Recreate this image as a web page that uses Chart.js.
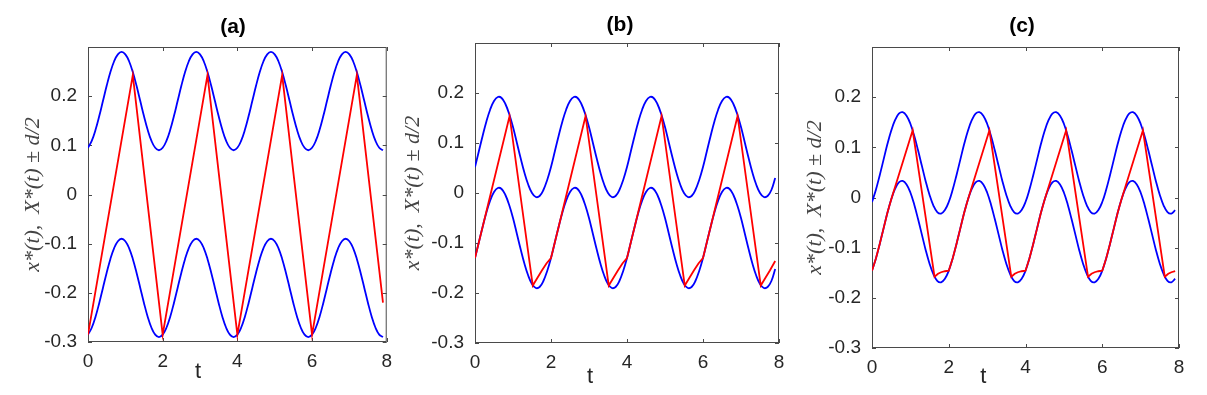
<!DOCTYPE html>
<html>
<head>
<meta charset="utf-8">
<script src="https://cdn.jsdelivr.net/npm/chart.js@4.4.1/dist/chart.umd.min.js"></script>
<style>
  html, body { margin: 0; padding: 0; background: #fff; }
  #wrap { position: relative; width: 1207px; height: 395px; }
  canvas { position: absolute; top: 0; }
</style>
</head>
<body>
<div id="wrap">
  <canvas id="pa" width="400" height="395" style="left:0"></canvas>
  <canvas id="pb" width="400" height="395" style="left:400px"></canvas>
  <canvas id="pc" width="407" height="395" style="left:800px"></canvas>
</div>
<script>
// ---------- data ----------

const tSamples = [
  0, 0.1, 0.2, 0.3, 0.4, 0.5, 0.6, 0.7, 0.8, 0.9, 1, 1.1, 1.2, 1.3, 1.4, 1.5, 1.6, 1.7, 1.8, 1.9,
  2, 2.1, 2.2, 2.3, 2.4, 2.5, 2.6, 2.7, 2.8, 2.9, 3, 3.1, 3.2, 3.3, 3.4, 3.5, 3.6, 3.7, 3.8, 3.9,
  4, 4.1, 4.2, 4.3, 4.4, 4.5, 4.6, 4.7, 4.8, 4.9, 5, 5.1, 5.2, 5.3, 5.4, 5.5, 5.6, 5.7, 5.8, 5.9,
  6, 6.1, 6.2, 6.3, 6.4, 6.5, 6.6, 6.7, 6.8, 6.9, 7, 7.1, 7.2, 7.3, 7.4, 7.5, 7.6, 7.7, 7.8, 7.9,
];

// (a) X*(t) + d/2, X*(t) - d/2
const upperA = [
  0.095, 0.109, 0.131, 0.159, 0.19, 0.221, 0.249, 0.271, 0.285, 0.29, 0.285, 0.271, 0.249, 0.221, 0.19, 0.159, 0.131, 0.109, 0.095, 0.09,
  0.095, 0.109, 0.131, 0.159, 0.19, 0.221, 0.249, 0.271, 0.285, 0.29, 0.285, 0.271, 0.249, 0.221, 0.19, 0.159, 0.131, 0.109, 0.095, 0.09,
  0.095, 0.109, 0.131, 0.159, 0.19, 0.221, 0.249, 0.271, 0.285, 0.29, 0.285, 0.271, 0.249, 0.221, 0.19, 0.159, 0.131, 0.109, 0.095, 0.09,
  0.095, 0.109, 0.131, 0.159, 0.19, 0.221, 0.249, 0.271, 0.285, 0.29, 0.285, 0.271, 0.249, 0.221, 0.19, 0.159, 0.131, 0.109, 0.095, 0.09,
];
const lowerA = [
  -0.285, -0.271, -0.249, -0.221, -0.19, -0.159, -0.131, -0.109, -0.095, -0.09, -0.095, -0.109, -0.131, -0.159, -0.19, -0.221, -0.249, -0.271, -0.285, -0.29,
  -0.285, -0.271, -0.249, -0.221, -0.19, -0.159, -0.131, -0.109, -0.095, -0.09, -0.095, -0.109, -0.131, -0.159, -0.19, -0.221, -0.249, -0.271, -0.285, -0.29,
  -0.285, -0.271, -0.249, -0.221, -0.19, -0.159, -0.131, -0.109, -0.095, -0.09, -0.095, -0.109, -0.131, -0.159, -0.19, -0.221, -0.249, -0.271, -0.285, -0.29,
  -0.285, -0.271, -0.249, -0.221, -0.19, -0.159, -0.131, -0.109, -0.095, -0.09, -0.095, -0.109, -0.131, -0.159, -0.19, -0.221, -0.249, -0.271, -0.285, -0.29,
];
const redAT = [0, 1.2, 2, 3.2, 4, 5.2, 6, 7.2, 7.9];
const redAY = [-0.285, 0.243, -0.285, 0.243, -0.285, 0.243, -0.285, 0.243, -0.22];

// (b)
const upperB = [
  0.052, 0.083, 0.114, 0.143, 0.167, 0.184, 0.192, 0.19, 0.178, 0.158, 0.132, 0.101, 0.07, 0.041, 0.017, 0, -0.008, -0.006, 0.006, 0.026,
  0.052, 0.083, 0.114, 0.143, 0.167, 0.184, 0.192, 0.19, 0.178, 0.158, 0.132, 0.101, 0.07, 0.041, 0.017, 0, -0.008, -0.006, 0.006, 0.026,
  0.052, 0.083, 0.114, 0.143, 0.167, 0.184, 0.192, 0.19, 0.178, 0.158, 0.132, 0.101, 0.07, 0.041, 0.017, 0, -0.008, -0.006, 0.006, 0.026,
  0.052, 0.083, 0.114, 0.143, 0.167, 0.184, 0.192, 0.19, 0.178, 0.158, 0.132, 0.101, 0.07, 0.041, 0.017, 0, -0.008, -0.006, 0.006, 0.03,
];
const lowerB = [
  -0.13, -0.099, -0.068, -0.039, -0.015, 0.002, 0.01, 0.008, -0.004, -0.024, -0.05, -0.081, -0.112, -0.141, -0.165, -0.182, -0.19, -0.188, -0.176, -0.156,
  -0.13, -0.099, -0.068, -0.039, -0.015, 0.002, 0.01, 0.008, -0.004, -0.024, -0.05, -0.081, -0.112, -0.141, -0.165, -0.182, -0.19, -0.188, -0.176, -0.156,
  -0.13, -0.099, -0.068, -0.039, -0.015, 0.002, 0.01, 0.008, -0.004, -0.024, -0.05, -0.081, -0.112, -0.141, -0.165, -0.182, -0.19, -0.188, -0.176, -0.156,
  -0.13, -0.099, -0.068, -0.039, -0.015, 0.002, 0.01, 0.008, -0.004, -0.024, -0.05, -0.081, -0.112, -0.141, -0.165, -0.182, -0.19, -0.188, -0.176, -0.152,
];
const redBT = [
  0, 0.1, 0.2, 0.91, 1.52, 1.64, 1.76, 1.88,
  2, 2.1, 2.2, 2.91, 3.52, 3.64, 3.76, 3.88,
  4, 4.1, 4.2, 4.91, 5.52, 5.64, 5.76, 5.88,
  6, 6.1, 6.2, 6.91, 7.52, 7.64, 7.76, 7.9,
];
const redBY = [
  -0.13, -0.099, -0.068, 0.154, -0.185, -0.17, -0.155, -0.141,
  -0.13, -0.099, -0.068, 0.154, -0.185, -0.17, -0.155, -0.141,
  -0.13, -0.099, -0.068, 0.154, -0.185, -0.17, -0.155, -0.141,
  -0.13, -0.099, -0.068, 0.154, -0.185, -0.17, -0.155, -0.136,
];

// (c)
const upperC = [
  -0.009, 0.015, 0.044, 0.075, 0.106, 0.133, 0.154, 0.167, 0.17, 0.163, 0.147, 0.123, 0.094, 0.063, 0.032, 0.005, -0.016, -0.029, -0.032, -0.025,
  -0.009, 0.015, 0.044, 0.075, 0.106, 0.133, 0.154, 0.167, 0.17, 0.163, 0.147, 0.123, 0.094, 0.063, 0.032, 0.005, -0.016, -0.029, -0.032, -0.025,
  -0.009, 0.015, 0.044, 0.075, 0.106, 0.133, 0.154, 0.167, 0.17, 0.163, 0.147, 0.123, 0.094, 0.063, 0.032, 0.005, -0.016, -0.029, -0.032, -0.025,
  -0.009, 0.015, 0.044, 0.075, 0.106, 0.133, 0.154, 0.167, 0.17, 0.163, 0.147, 0.123, 0.094, 0.063, 0.032, 0.005, -0.016, -0.029, -0.032, -0.025,
];
const lowerC = [
  -0.146, -0.122, -0.093, -0.062, -0.031, -0.004, 0.017, 0.03, 0.033, 0.026, 0.01, -0.014, -0.043, -0.074, -0.105, -0.132, -0.153, -0.166, -0.169, -0.162,
  -0.146, -0.122, -0.093, -0.062, -0.031, -0.004, 0.017, 0.03, 0.033, 0.026, 0.01, -0.014, -0.043, -0.074, -0.105, -0.132, -0.153, -0.166, -0.169, -0.162,
  -0.146, -0.122, -0.093, -0.062, -0.031, -0.004, 0.017, 0.03, 0.033, 0.026, 0.01, -0.014, -0.043, -0.074, -0.105, -0.132, -0.153, -0.166, -0.169, -0.162,
  -0.146, -0.122, -0.093, -0.062, -0.031, -0.004, 0.017, 0.03, 0.033, 0.026, 0.01, -0.014, -0.043, -0.074, -0.105, -0.132, -0.153, -0.166, -0.169, -0.162,
];
const redCT = [
  0, 0.1, 0.2, 0.3, 0.4, 0.5, 1.06, 1.63, 1.72, 1.8, 1.9,
  2, 2.1, 2.2, 2.3, 2.4, 2.5, 3.06, 3.63, 3.72, 3.8, 3.9,
  4, 4.1, 4.2, 4.3, 4.4, 4.5, 5.06, 5.63, 5.72, 5.8, 5.9,
  6, 6.1, 6.2, 6.3, 6.4, 6.5, 7.06, 7.63, 7.72, 7.8, 7.9,
];
const redCY = [
  -0.146, -0.122, -0.093, -0.062, -0.031, -0.004, 0.134, -0.158, -0.152, -0.149, -0.147,
  -0.146, -0.122, -0.093, -0.062, -0.031, -0.004, 0.134, -0.158, -0.152, -0.149, -0.147,
  -0.146, -0.122, -0.093, -0.062, -0.031, -0.004, 0.134, -0.158, -0.152, -0.149, -0.147,
  -0.146, -0.122, -0.093, -0.062, -0.031, -0.004, 0.134, -0.158, -0.152, -0.149, -0.147,
];

const xTickValues = [0, 2, 4, 6, 8];
const xTickLabels = ["0", "2", "4", "6", "8"];
const yTickValues = [-0.3, -0.2, -0.1, 0, 0.1, 0.2];
const yTickLabels = ["-0.3", "-0.2", "-0.1", "0", "0.1", "0.2"];

const Y_TITLE = "x*(t),  X*(t) \u00b1 d/2";
const X_TITLE = "t";

// ---------- styling ----------

const BLUE = "#0000ff";
const RED = "#ff0000";
const AXIS_COLOR = "#4a4a4a";
const TEXT_COLOR = "#262626";
const LINE_W = 1.8;
const TICK_LEN = 4;
const SANS = "'Liberation Sans', Arial, sans-serif";

const panelDecor = {
  id: "panelDecor",
  beforeDatasetsDraw(chart) {
    const { ctx, chartArea: a, scales: { x, y } } = chart;
    ctx.save();
    ctx.strokeStyle = AXIS_COLOR;
    ctx.lineWidth = 1;
    ctx.strokeRect(a.left + 0.5, a.top + 0.5, a.right - a.left - 1, a.bottom - a.top - 1);
    ctx.beginPath();
    for (const v of xTickValues) {
      const px = Math.round(x.getPixelForValue(v)) + 0.5;
      ctx.moveTo(px, a.bottom); ctx.lineTo(px, a.bottom - TICK_LEN);
      ctx.moveTo(px, a.top); ctx.lineTo(px, a.top + TICK_LEN);
    }
    for (const v of yTickValues) {
      const py = Math.round(y.getPixelForValue(v)) + 0.5;
      ctx.moveTo(a.left, py); ctx.lineTo(a.left + TICK_LEN, py);
      ctx.moveTo(a.right, py); ctx.lineTo(a.right - TICK_LEN, py);
    }
    ctx.stroke();
    ctx.restore();
  },
  afterDraw(chart, args, o) {
    const { ctx, scales: { x } } = chart;
    ctx.save();
    ctx.fillStyle = "#000";
    ctx.textAlign = "center";
    ctx.textBaseline = "middle";
    ctx.font = `bold 21px ${SANS}`;
    ctx.fillText(o.title, o.titleX, o.titleY);
    ctx.fillStyle = TEXT_COLOR;
    ctx.textBaseline = "alphabetic";
    ctx.font = `22px ${SANS}`;
    ctx.fillText(X_TITLE, x.getPixelForValue(o.tAt), o.tBase);
    ctx.restore();
  },
};

function lineSet(xs, ys, color, tension) {
  return {
    data: xs.map((t, i) => ({ x: t, y: ys[i] })),
    borderColor: color,
    borderWidth: LINE_W,
    pointRadius: 0,
    tension,
    fill: false,
  };
}

const panels = [
  { id: "pa", title: "(a)", titleX: 233, titleY: 27, tAt: 2.95, tBase: 378,
    pad: { left: 18, right: 11, top: 47, bottom: 13 }, yWidth: 70, yTitlePad: 1.8,
    upper: upperA, lower: lowerA, redT: redAT, redY: redAY },
  { id: "pb", title: "(b)", titleX: 220, titleY: 25, tAt: 3.03, tBase: 383,
    pad: { left: 0, right: 21, top: 43, bottom: 12 }, yWidth: 75, yTitlePad: 0.1,
    upper: upperB, lower: lowerB, redT: redBT, redY: redBY },
  { id: "pc", title: "(c)", titleX: 222, titleY: 26, tAt: 2.9, tBase: 383,
    pad: { left: 0, right: 28, top: 47, bottom: 7 }, yWidth: 72, yTitlePad: 1.8,
    upper: upperC, lower: lowerC, redT: redCT, redY: redCY },
];

for (const p of panels) {
  new Chart(document.getElementById(p.id), {
    type: "line",
    data: {
      datasets: [
        lineSet(p.redT, p.redY, RED, 0),
        lineSet(tSamples, p.upper, BLUE, 0.4),
        lineSet(tSamples, p.lower, BLUE, 0.4),
      ],
    },
    plugins: [panelDecor],
    options: {
      responsive: false,
      animation: false,
      devicePixelRatio: 1,
      layout: { padding: p.pad },
      plugins: {
        legend: { display: false },
        tooltip: { enabled: false },
        title: { display: false },
        panelDecor: { title: p.title, titleX: p.titleX, titleY: p.titleY, tAt: p.tAt, tBase: p.tBase },
      },
      scales: {
        x: {
          type: "linear",
          min: 0,
          max: 8,
          afterBuildTicks: (s) => { s.ticks = xTickValues.map((v) => ({ value: v })); },
          afterFit: (s) => { s.height = 40; },
          grid: { display: false, drawTicks: false },
          border: { display: false },
          ticks: {
            padding: 8,
            maxRotation: 0,
            autoSkip: false,
            color: TEXT_COLOR,
            font: { family: SANS, size: 19 },
            callback: (v, i) => xTickLabels[i],
          },
        },
        y: {
          type: "linear",
          min: -0.3,
          max: 0.3,
          afterBuildTicks: (s) => { s.ticks = yTickValues.map((v) => ({ value: v })); },
          afterFit: (s) => { s.width = p.yWidth; },
          grid: { display: false, drawTicks: false },
          border: { display: false },
          ticks: {
            padding: 11,
            autoSkip: false,
            color: TEXT_COLOR,
            font: { family: SANS, size: 19 },
            callback: (v, i) => yTickLabels[i],
          },
          title: {
            display: true,
            text: Y_TITLE,
            color: "#444",
            font: { family: "'Liberation Serif', 'DejaVu Serif', serif", style: "italic", size: 22 },
            padding: { top: p.yTitlePad, bottom: 0 },
          },
        },
      },
    },
  });
}
</script>
</body>
</html>
